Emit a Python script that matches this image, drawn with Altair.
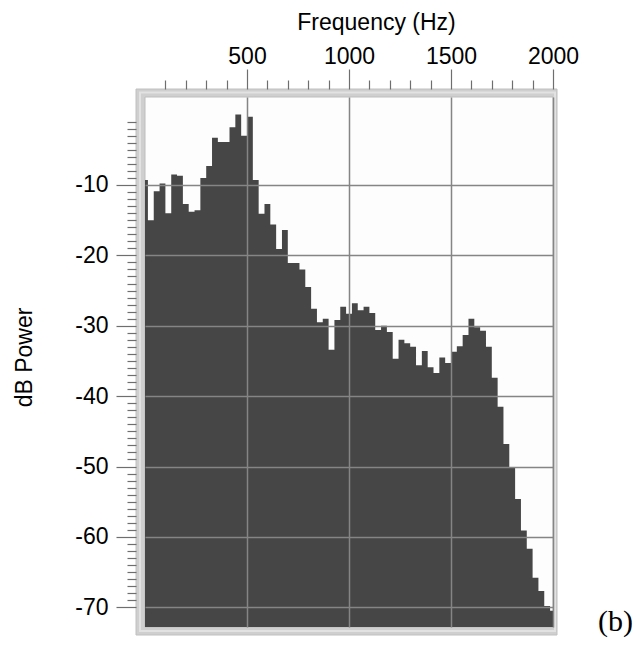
import altair as alt
import pandas as pd

# ---------------- data ----------------
FREQ_MAX = 2000            # Hz, right end of the frequency axis
N_BINS = 70                # spectral bins between 0 and 2000 Hz (centres at k*step)
DB_FLOOR = -72.8           # bottom of the dB axis (bars grow from here)
DB_TOP = 2.5               # top of the dB axis

db_power = [
    -9.3, -15.0, -10.9, -9.8, -14.0, -8.5, -8.7, -12.7, -13.8, -13.6,
    -9.0, -7.3, -3.3, -3.9, -3.9, -1.8, 0.0, -3.0, -0.3, -9.3,
    -14.1, -12.7, -15.6, -19.1, -16.4, -21.1, -21.1, -22.0, -24.5, -27.6,
    -29.5, -29.0, -33.4, -29.2, -27.3, -28.3, -26.8, -27.8, -27.3, -28.2,
    -30.6, -30.0, -30.9, -34.7, -32.0, -32.5, -33.0, -35.6, -33.6, -35.9,
    -36.7, -34.5, -35.3, -33.7, -32.9, -31.3, -29.0, -30.2, -30.7, -33.0,
    -37.4, -41.5, -46.8, -50.1, -54.6, -59.1, -61.7, -65.8, -67.7, -69.8,
    -70.5,
]

x_tick_values = list(range(100, 2001, 100))
y_tick_values = list(range(-70, 0))

X_TITLE = "Frequency (Hz)"
Y_TITLE = "dB Power"
PANEL_LABEL = "(b)"

# bins are centred on multiples of the bin step; the first and last are clipped to the axis
step = FREQ_MAX / N_BINS
f_lo = [max(0.0, k * step - step / 2) for k in range(len(db_power))]
# step outline: each bin starts at f_lo and holds its level until the next bin; close at FREQ_MAX
df = pd.DataFrame({
    "f": f_lo + [float(FREQ_MAX)],
    "db": db_power + [db_power[-1]],
    "base": DB_FLOOR,
})
one = pd.DataFrame({"a": [0]})

# ---------------- style ----------------
W, H = 408, 530
FONT = "Liberation Sans"
FS = 23
BAR = "#464646"
GRID = "#858585"
TICK = "#6e6e6e"

xs = alt.Scale(domain=[0, FREQ_MAX], nice=False, zero=False)
ys = alt.Scale(domain=[DB_FLOOR, DB_TOP], nice=False, zero=False)

x_major = "datum.value % 500 === 0"
y_major = "datum.value % 10 === 0"

x_axis = alt.Axis(
    orient="top", values=x_tick_values,
    labelExpr=f"{x_major} ? '' + datum.value : ''",
    tickSize={"condition": {"test": x_major, "value": 20}, "value": 9},
    grid=True, gridColor=GRID, gridWidth=1.5,
    gridOpacity={"condition": {"test": x_major, "value": 1}, "value": 0},
    domain=False, offset=8, tickColor=TICK, tickWidth=1.2,
    labelFont=FONT, labelFontSize=FS, labelColor="black", labelPadding=1,
    labelFlush=False, labelOverlap=False, labelBound=False,
    title=X_TITLE, titleFont=FONT, titleFontSize=FS, titleFontWeight="normal",
    titleColor="black", titleX=231, titleY=-60, titleAlign="center",
    titleBaseline="alphabetic", zindex=1,
)

y_axis = alt.Axis(
    orient="left", values=y_tick_values,
    labelExpr=f"{y_major} ? '' + datum.value : ''",
    tickSize={"condition": {"test": y_major, "value": 20}, "value": 9},
    grid=True, gridColor=GRID, gridWidth=1.5,
    gridOpacity={"condition": {"test": y_major, "value": 1}, "value": 0},
    domain=False, offset=9, tickColor=TICK, tickWidth=1.2,
    labelFont=FONT, labelFontSize=FS, labelColor="black", labelPadding=8,
    labelFlush=False, labelOverlap=False, labelBound=False,
    title=Y_TITLE, titleFont=FONT, titleFontSize=FS, titleFontWeight="normal",
    titleColor="black", titleX=-112, titleY=260, titleAngle=-90,
    titleAlign="center", titleBaseline="middle", zindex=1,
)

frame = alt.Chart(one).mark_rect(color="#cfcfcf", stroke="#c0c0c0", strokeWidth=1).encode(
    x=alt.value(-9), x2=alt.value(W + 4), y=alt.value(-8), y2=alt.value(H + 8)
)
frame_hi = alt.Chart(one).mark_rect(fill="none", stroke="#e2e2e2", strokeWidth=2).encode(
    x=alt.value(-5), x2=alt.value(W + 2), y=alt.value(-4.5), y2=alt.value(H + 4)
)
inner = alt.Chart(one).mark_rect(color="#fdfdfd", stroke="#bdbdbd", strokeWidth=1).encode(
    x=alt.value(0), x2=alt.value(W), y=alt.value(0), y2=alt.value(H)
)
bars = alt.Chart(df).mark_area(color=BAR, interpolate="step-after", opacity=1).encode(
    x=alt.X("f:Q", scale=xs, axis=x_axis),
    y=alt.Y("db:Q", scale=ys, axis=y_axis),
    y2="base",
)
label = alt.Chart(one).mark_text(
    text=PANEL_LABEL, font="Liberation Serif", fontSize=30,
    align="left", baseline="alphabetic", color="black",
).encode(x=alt.value(453), y=alt.value(534))

chart = (
    alt.layer(frame, frame_hi, inner, bars, label)
    .properties(
        width=W, height=H,
        autosize=alt.AutoSizeParams(type="none"),
        padding={"left": 145, "top": 97, "right": 87, "bottom": 18},
        background="white",
    )
    .configure_view(stroke=None)
)

chart.save("out.html", embed_options={"renderer": "svg", "actions": False})
